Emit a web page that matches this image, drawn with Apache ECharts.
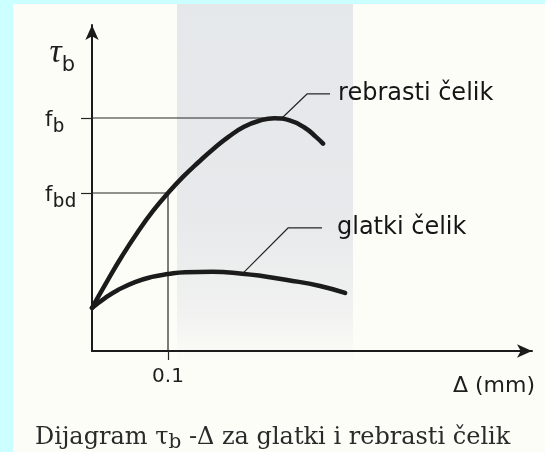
<!DOCTYPE html>
<html>
<head>
<meta charset="utf-8">
<script src="https://cdn.jsdelivr.net/npm/echarts@6/dist/echarts.min.js"></script>
<style>
  html, body { margin: 0; padding: 0; background: #ccffff; }
  #chart { width: 545px; height: 452px; }
</style>
</head>
<body>
<div id="chart"></div>
<script>
// ---- data (Δ in mm, τ normalised to f_b = 1) ----
const deltaRebrasti = [0, 0.02, 0.04, 0.06, 0.08, 0.1, 0.12, 0.14, 0.16, 0.18, 0.2, 0.22, 0.24, 0.26, 0.28, 0.295, 0.304];
const tauRebrasti   = [0.185, 0.30, 0.41, 0.51, 0.60, 0.678, 0.748, 0.81, 0.868, 0.92, 0.962, 0.988, 0.999, 0.99, 0.958, 0.918, 0.89];

const deltaGlatki = [0, 0.0171, 0.0342, 0.0566, 0.0789, 0.1, 0.1224, 0.1579, 0.1974, 0.2276, 0.2566, 0.3, 0.3329];
const tauGlatki   = [0.185, 0.227, 0.262, 0.296, 0.318, 0.330, 0.338, 0.34, 0.332, 0.32, 0.305, 0.279, 0.249];

// characteristic values
const fbValue = 1.0;
const fbdValue = 0.678;
const fbPeakDelta = 0.2434;
const deltaTick = 0.1;

// tick labels
const yTickValues = [fbdValue, fbValue];
const yTickLabels = ['{f|f}{s|bd}', '{f|f}{s|b}'];
const xTickValues = [deltaTick];
const xTickLabels = ['0.1'];

// curve labels with leader lines (Δ, τ)
const seriesNames = ['rebrasti čelik', 'glatki čelik'];
const leaderRebrastiDelta = [0.25, 0.2829, 0.3132];
const leaderRebrastiTau   = [1.0, 1.103, 1.103];
const leaderGlatkiDelta   = [0.1974, 0.2579, 0.3026];
const leaderGlatkiTau     = [0.330, 0.528, 0.528];

const xMax = 0.5789;
const yMax = 1.399;

const zip = (a, b) => a.map((v, i) => [v, b[i]]);

const ink = '#1b1b1b';
const thin = '#262626';
const sans = 'DejaVu Sans';
const mono = 'DejaVu Sans Mono';

const chart = echarts.init(document.getElementById('chart'), null, { renderer: 'canvas' });

function leader(name, dx, ty, dist) {
  return {
    type: 'line', name: name + ' label', data: zip(dx, ty), symbol: 'none', silent: true, z: 4,
    lineStyle: { color: thin, width: 1.2 },
    endLabel: { show: true, formatter: name, color: '#151515', fontFamily: sans, fontSize: 24, distance: dist }
  };
}

chart.setOption({
  animation: false,
  backgroundColor: '#ccffff',
  graphic: [
    { type: 'rect', z: -10, shape: { x: 13, y: 4, width: 532, height: 448 }, style: { fill: '#fdfdf7' } },
    { type: 'rect', z: -9, shape: { x: 177, y: 4, width: 176, height: 356 },
      style: { fill: new echarts.graphic.LinearGradient(0, 0, 0, 1, [
        { offset: 0, color: '#e5e8ea' },
        { offset: 0.6, color: '#e7e9eb' },
        { offset: 0.85, color: '#f0f1f0' },
        { offset: 1, color: '#fcfcf7' }
      ]) } }
  ],
  title: {
    text: 'Dijagram τ{s|b} -Δ za glatki i rebrasti čelik',
    left: 30, top: 417,
    textStyle: {
      fontFamily: 'DejaVu Serif', fontSize: 24, fontWeight: 'normal', color: '#2a2a2a',
      rich: { s: { fontFamily: 'DejaVu Serif', fontSize: 20, color: '#2a2a2a', verticalAlign: 'bottom', lineHeight: 31 } }
    }
  },
  grid: { left: 92, right: 13, top: 25, bottom: 101 },
  xAxis: {
    type: 'value', min: 0, max: xMax,
    name: 'Δ (mm)', nameLocation: 'end', nameGap: 3,
    nameTextStyle: { fontFamily: sans, fontSize: 22, color: '#1e1e1e', align: 'right', verticalAlign: 'top', padding: [24, 0, 0, 0] },
    axisLine: { lineStyle: { color: ink, width: 2 }, symbol: ['none', 'arrow'], symbolSize: [10, 15] },
    axisTick: { show: true, customValues: xTickValues, length: 9, lineStyle: { color: thin, width: 1.2 } },
    axisLabel: {
      customValues: xTickValues, margin: 16,
      formatter: v => xTickLabels[xTickValues.indexOf(v)] || '',
      fontFamily: sans, fontSize: 20, color: '#1e1e1e'
    },
    splitLine: { show: false }
  },
  yAxis: {
    type: 'value', min: 0, max: yMax,
    name: '{t|τ}{s|b}', nameLocation: 'end', nameGap: -31,
    nameTextStyle: {
      align: 'right', verticalAlign: 'middle', padding: [0, 17, 0, 0],
      rich: {
        t: { fontFamily: 'Liberation Serif', fontStyle: 'italic', fontSize: 34, color: '#1e1e1e', verticalAlign: 'top', lineHeight: 28 },
        s: { fontFamily: sans, fontSize: 21, color: '#1e1e1e', verticalAlign: 'bottom', lineHeight: 40 }
      }
    },
    axisLine: { lineStyle: { color: ink, width: 2 }, symbol: ['none', 'arrow'], symbolSize: [10, 15] },
    axisTick: { show: true, customValues: yTickValues, length: 11, lineStyle: { color: thin, width: 1.2 } },
    axisLabel: {
      customValues: yTickValues, margin: 47, align: 'left',
      formatter: v => yTickLabels[yTickValues.indexOf(v)] || '',
      padding: [11, 0, 0, 0],
      rich: {
        f: { fontFamily: sans, fontSize: 21, color: '#1e1e1e', verticalAlign: 'top', lineHeight: 23 },
        s: { fontFamily: mono, fontSize: 20, color: '#1e1e1e', verticalAlign: 'bottom', lineHeight: 27 }
      }
    },
    splitLine: { show: false }
  },
  series: [
    {
      type: 'line', name: 'f_b', data: [[0, fbValue], [fbPeakDelta, fbValue]], symbol: 'none', silent: true, z: 3,
      lineStyle: { color: thin, width: 1.2 }
    },
    {
      type: 'line', name: 'f_bd', data: [[0, fbdValue], [deltaTick, fbdValue], [deltaTick, 0]], symbol: 'none', silent: true, z: 3,
      lineStyle: { color: thin, width: 1.2 }
    },
    {
      type: 'line', name: seriesNames[0], data: zip(deltaRebrasti, tauRebrasti), smooth: true, symbol: 'none', z: 5,
      lineStyle: { color: ink, width: 4.5, cap: 'round' }
    },
    {
      type: 'line', name: seriesNames[1], data: zip(deltaGlatki, tauGlatki), smooth: true, symbol: 'none', z: 5,
      lineStyle: { color: ink, width: 4.5, cap: 'round' }
    },
    leader(seriesNames[0], leaderRebrastiDelta, leaderRebrastiTau, 8),
    leader(seriesNames[1], leaderGlatkiDelta, leaderGlatkiTau, 15)
  ]
});
</script>
</body>
</html>
